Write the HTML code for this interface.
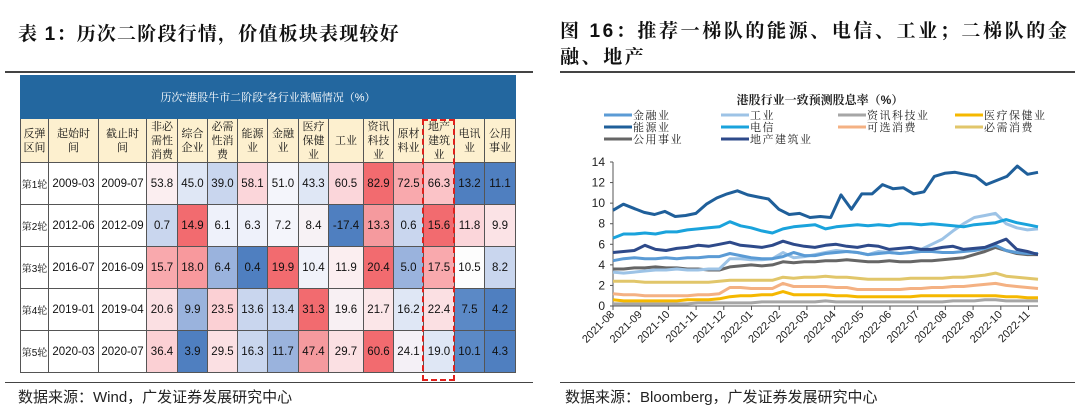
<!DOCTYPE html>
<html><head><meta charset="utf-8">
<style>
body{margin:0;width:1080px;height:415px;background:#fff;position:relative;overflow:hidden;font-family:"Liberation Sans","Noto Sans CJK SC",sans-serif;}
.t{position:absolute;font-weight:bold;font-size:19px;color:#111;font-family:"Liberation Sans","Noto Serif CJK SC",serif;}
.hr{position:absolute;height:2px;background:#444;}
.src{position:absolute;font-size:15px;color:#222;top:386px;}
table{position:absolute;left:20px;top:75px;border-collapse:collapse;font-size:11.5px;table-layout:fixed;}
td{border:1px solid #555;text-align:center;padding:0;color:#111;}
.hd td{font-size:11px;line-height:14px;background:#fdf0cf;font-family:"Liberation Sans","Noto Serif CJK SC",serif;}
</style></head><body>
<div class="t" style="left:18px;top:19px;letter-spacing:1.2px;">表 1：历次二阶段行情，价值板块表现较好</div>
<div class="t" style="left:560px;top:19px;line-height:26px;letter-spacing:2.6px;">图 16：推荐一梯队的能源、电信、工业；二梯队的金<br>融、地产</div>
<div class="hr" style="left:5px;width:528px;top:71px;"></div>
<div class="hr" style="left:560px;width:515px;top:71px;"></div>
<div class="hr" style="left:5px;width:528px;top:382px;height:1px;"></div>
<div class="hr" style="left:560px;width:515px;top:382px;height:1px;"></div>

<table id="tbl">
<colgroup><col style="width:28px"><col style="width:50px"><col style="width:48px"><col style="width:31px"><col style="width:30px"><col style="width:30px"><col style="width:30px"><col style="width:31px"><col style="width:30px"><col style="width:35px"><col style="width:30px"><col style="width:30px"><col style="width:31px"><col style="width:30px"><col style="width:31px"></colgroup>
<tr style="height:43px"><td colspan="15" style="background:#23679f;color:#fff;font-size:11px;border-color:#23679f;font-family:'Liberation Sans','Noto Serif CJK SC',serif;">历次“港股牛市二阶段”各行业涨幅情况（%）</td></tr>
<tr class="hd" style="height:44px"><td>反弹<br>区间</td><td>起始时<br>间</td><td>截止时<br>间</td><td>非必<br>需性<br>消费</td><td>综合<br>企业</td><td>必需<br>性消<br>费</td><td>能源<br>业</td><td>金融<br>业</td><td>医疗<br>保健<br>业</td><td>工业</td><td>资讯<br>科技<br>业</td><td>原材<br>料业</td><td>地产<br>建筑<br>业</td><td>电讯<br>业</td><td>公用<br>事业</td></tr>
</table>
<div style="position:absolute;left:422px;top:119px;width:29px;height:258px;border:2.5px dashed #e0201c;"></div>
<div class="src" style="left:18px;">数据来源：Wind，广发证券发展研究中心</div>
<div class="src" style="left:565px;">数据来源：Bloomberg，广发证券发展研究中心</div>

<svg id="chart" width="1080" height="415" style="position:absolute;left:0;top:0;" xmlns="http://www.w3.org/2000/svg"></svg>

<script>
// table data
const rounds=['第1轮','第2轮','第3轮','第4轮','第5轮'];
const starts=['2009-03','2012-06','2016-07','2019-01','2020-03'];
const ends=['2009-07','2012-09','2016-09','2019-04','2020-07'];
const vals=[[53.8,45.0,39.0,58.1,51.0,43.3,60.5,82.9,72.5,66.3,13.2,11.1],
[0.7,14.9,6.1,6.3,7.2,8.4,-17.4,13.3,0.6,15.6,11.8,9.9],
[15.7,18.0,6.4,0.4,19.9,10.4,11.9,20.4,5.0,17.5,10.5,8.2],
[20.6,9.9,23.5,13.6,13.4,31.3,19.6,21.7,16.2,22.4,7.5,4.2],
[36.4,3.9,29.5,16.3,11.7,47.4,29.7,60.6,24.1,19.0,10.1,4.3]];
const cellColors=[['#fbeef0','#dfe7f5','#c9d6ee','#fbd6da','#f4f5fb','#dfe7f5','#fbd6da','#f26b6f','#f9a9ad','#fbc3c7','#4f7fc0','#4f7fc0'],
['#c9d6ee','#f26b6f','#eef1fa','#eef1fa','#f4f5fb','#f7f2f5','#4f7fc0','#f59a9e','#c9d6ee','#f26b6f','#fbd6da','#fbe3e6'],
['#f9a9ad','#f8999d','#9ab3dd','#4f7fc0','#f26b6f','#f0f2fa','#fbeef0','#f26b6f','#9ab3dd','#f9a9ad','#fdfdfd','#c9d6ee'],
['#fbe0e3','#9ab3dd','#fbd0d4','#c9d6ee','#c9d6ee','#f26b6f','#f8f0f3','#fbe6e8','#dfe7f5','#fbe0e3','#5b89c6','#4f7fc0'],
['#fbd0d4','#4f7fc0','#fbe0e3','#c9d6ee','#9ab3dd','#f59a9e','#fbe0e3','#f26b6f','#f4f0f6','#dfe7f5','#5b89c6','#4f7fc0']];
const tbl=document.getElementById('tbl');
rounds.forEach((r,i)=>{
  const tr=document.createElement('tr');tr.style.height='42px';
  
  
  const a=[r,starts[i],ends[i]].concat(vals[i].map(v=>v.toFixed(1)));
  a.forEach((t,j)=>{const td=document.createElement('td');td.textContent=t;
    if(j===0){td.style.fontSize='10px';td.style.fontFamily='"Liberation Sans","Noto Serif CJK SC",serif';}
    if(j>=3)td.style.background=cellColors[i][j-3];
    tr.appendChild(td);});
  tbl.appendChild(tr);
});

// chart data
const xTicks=['2021-08','2021-09','2021-10','2021-11','2021-12','2022-01','2022-02','2022-03','2022-04','2022-05','2022-06','2022-07','2022-08','2022-09','2022-10','2022-11'];
const yTicks=[0,2,4,6,8,10,12,14];
const sFinance=[4.4,4.6,4.7,4.6,4.6,4.7,4.6,4.7,4.7,4.8,4.8,5.1,4.9,4.7,4.6,4.6,4.8,5.2,4.9,4.9,5.1,5.2,5.3,5.2,5.0,5.1,5.2,5.1,5.2,5.3,5.3,5.2,5.2,5.3,5.4,5.6,5.9,5.4,5.2,5.1,5.1];
const sIndustrial=[3.3,3.2,3.3,3.4,3.5,3.5,3.6,3.5,3.5,3.6,3.6,4.6,4.6,4.5,4.5,4.6,5.2,4.7,4.8,5.0,5.2,5.4,5.3,5.2,5.0,5.3,5.2,5.1,5.2,5.5,6.0,6.5,7.3,8.0,8.6,8.8,9.0,8.0,7.6,7.4,7.5];
const sIT=[0.2,0.2,0.2,0.2,0.2,0.2,0.2,0.2,0.3,0.3,0.3,0.3,0.3,0.3,0.4,0.4,0.4,0.4,0.4,0.4,0.5,0.4,0.4,0.4,0.4,0.4,0.4,0.4,0.4,0.4,0.4,0.4,0.5,0.5,0.5,0.6,0.6,0.5,0.5,0.5,0.5];
const sHealth=[0.6,0.5,0.5,0.5,0.5,0.5,0.5,0.6,0.6,0.6,0.7,0.9,1.0,1.0,1.1,1.1,1.4,1.1,1.1,1.1,1.1,1.0,1.0,0.9,0.9,0.9,0.9,0.9,0.9,1.0,1.0,1.0,1.0,1.0,1.0,1.0,1.0,0.9,0.9,0.8,0.8];
const sEnergy=[9.3,9.9,9.5,9.1,8.9,9.2,8.7,8.8,9.0,9.9,10.5,10.9,11.2,10.8,10.6,10.4,9.4,8.9,9.0,8.6,8.7,8.6,10.8,9.4,10.9,10.9,11.8,11.4,11.5,10.9,11.1,12.6,12.9,13.0,12.8,12.6,11.8,12.2,12.6,13.6,12.8,13.0];
const sTelecom=[6.6,7.0,7.0,7.1,7.0,7.2,7.2,7.4,7.5,7.6,7.7,8.2,7.8,7.6,7.3,7.1,7.5,7.7,7.8,7.9,7.5,7.7,7.8,7.9,7.8,7.9,7.8,8.0,8.0,7.9,8.0,7.9,7.8,7.7,7.9,8.0,8.1,8.4,8.1,7.9,7.7];
const sDisc=[1.2,1.1,1.1,1.0,1.0,1.0,1.0,1.0,1.1,1.1,1.2,1.8,1.8,1.7,1.7,1.7,2.2,1.9,1.9,1.9,1.9,1.8,1.8,1.6,1.6,1.6,1.6,1.6,1.7,1.7,1.8,1.8,1.9,1.9,2.0,2.1,2.2,2.0,1.9,1.8,1.7];
const sStaples=[2.4,2.4,2.4,2.3,2.3,2.3,2.3,2.3,2.3,2.3,2.4,2.5,2.5,2.5,2.5,2.5,2.8,2.7,2.8,2.8,2.9,2.8,2.8,2.7,2.6,2.6,2.6,2.6,2.7,2.7,2.7,2.7,2.8,2.8,2.9,3.0,3.2,2.9,2.8,2.7,2.6];
const sUtil=[3.6,3.6,3.7,3.7,3.8,3.7,3.7,3.6,3.6,3.5,3.5,3.8,3.9,4.0,3.9,4.0,4.3,4.2,4.3,4.3,4.4,4.4,4.5,4.4,4.3,4.3,4.4,4.3,4.3,4.4,4.4,4.5,4.6,4.7,5.0,5.3,5.7,5.4,5.1,5.0,5.0];
const sProperty=[5.2,5.3,5.4,5.9,5.5,5.4,5.6,5.7,5.9,5.8,6.0,6.2,5.9,5.8,5.7,5.9,6.3,6.0,5.8,5.7,5.9,6.0,5.8,5.7,5.9,5.8,5.5,5.6,5.7,5.5,5.5,5.7,5.8,5.5,5.6,5.7,6.1,6.5,5.5,5.3,5.0];
const seriesNames=['金融业','工业','资讯科技业','医疗保健业','能源业','电信','可选消费','必需消费','公用事业','地产建筑业'];
const seriesData=[sFinance,sIndustrial,sIT,sHealth,sEnergy,sTelecom,sDisc,sStaples,sUtil,sProperty];
const colors=['#5b9bd5','#9dc3e6','#a6a6a6','#f5b800','#1f5f9a','#1aa3dc','#f4b183','#e1c66a','#666666','#2e4a8a'];

const NS='http://www.w3.org/2000/svg';
const svg=document.getElementById('chart');
const X0=613,X1=1038,Y0=306,Y1=162,XSTEP=27.7;
const yS=v=>Y0-(v-0)/(14-0)*(Y0-Y1);
const xS=(i,n)=>X0+i/(n-1)*(X1-X0);
function mk(t,at){const e=document.createElementNS(NS,t);for(const k in at)e.setAttribute(k,at[k]);svg.appendChild(e);return e;}

let e=mk('text',{x:820,y:104,'text-anchor':'middle','font-size':12,'font-weight':'bold',fill:'#222','font-family':'"Liberation Sans","Noto Serif CJK SC",serif'});
e.textContent='港股行业一致预测股息率（%）';



const legX=[604,721,838,955],legY=[115,127,139];
seriesNames.forEach((n,i)=>{
  const lx=legX[i%4],ly=legY[Math.floor(i/4)];
  const g=document.createElementNS(NS,'g');svg.appendChild(g);
  
  
  const l=document.createElementNS(NS,'line');
  [['x1',lx],['x2',lx+28],['y1',ly],['y2',ly],['stroke',colors[i]],['stroke-width',3]].forEach(a=>l.setAttribute(a[0],a[1]));g.appendChild(l);
  const t=document.createElementNS(NS,'text');
  [['x',lx+29],['y',ly+4],['font-size',11],['fill','#222'],['letter-spacing',1.5],['font-family','"Liberation Sans","Noto Serif CJK SC",serif']].forEach(a=>t.setAttribute(a[0],a[1]));
  t.textContent=n;g.appendChild(t);
});

e=mk('line',{x1:X0,x2:X0,y1:Y1,y2:Y0,stroke:'#555','stroke-width':1});


e=mk('line',{x1:X0,x2:X1,y1:Y0,y2:Y0,stroke:'#555','stroke-width':1});


yTicks.forEach(v=>{
  mk('line',{x1:X0-3,x2:X0,y1:yS(v),y2:yS(v),stroke:'#555'});
  const t=mk('text',{x:X0-8,y:yS(v)+4,'text-anchor':'end','font-size':12,fill:'#222'});
  t.textContent=v;
  
  
});
xTicks.forEach((lab,i)=>{
  const x=X0+i*XSTEP;
  mk('line',{x1:x,x2:x,y1:Y0,y2:Y0+4,stroke:'#555'});
  const t=mk('text',{x:x+2,y:Y0+9,'text-anchor':'end','font-size':11,fill:'#222',transform:`rotate(-45 ${x+2} ${Y0+9})`});
  t.textContent=lab;
  
  
});
const order=[2,3,6,7,8,1,0,9,5,4];
order.forEach(k=>{
  const d=seriesData[k];
  const pts=d.map((v,i)=>xS(i,d.length).toFixed(1)+','+yS(v).toFixed(1)).join(' ');
  const p=mk('polyline',{points:pts,fill:'none',stroke:colors[k],'stroke-width':3,'stroke-linejoin':'round'});
  
  
});
</script>
</body></html>
